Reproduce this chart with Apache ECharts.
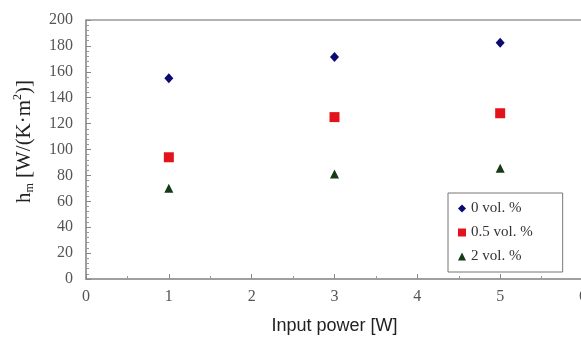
<!DOCTYPE html>
<html><head><meta charset="utf-8">
<script src="https://cdn.jsdelivr.net/npm/echarts@6/dist/echarts.min.js"></script>
<style>html,body{margin:0;padding:0;background:#fff}#c{width:581px;height:337px}</style>
</head><body><div id="c"></div>
<script>
const power = [1, 3, 5];
const s0 = [155, 171.5, 182.5];
const s05 = [94, 125, 128];
const s2 = [70, 81, 85.5];
const seriesNames = ['0 vol. %', '0.5 vol. %', '2 vol. %'];

const chart = echarts.init(document.getElementById('c'));
const serif = 'Liberation Serif';
function pts(v){ return power.map((x,i)=>[x, v[i]]); }
chart.setOption({
  animation: false,
  backgroundColor: '#fff',
  grid: {left: 86, right: -2, top: 20, bottom: 58, outerBoundsMode: 'none', containLabel: false,
         show: true, borderColor: '#999', borderWidth: 1.5},
  xAxis: {
    type: 'value', min: 0, max: 6, interval: 1,
    name: 'Input power [W]', nameLocation: 'middle', nameGap: 38,
    nameTextStyle: {fontFamily: 'Liberation Sans', fontSize: 18, color: '#222'},
    axisLine: {lineStyle: {color: '#999', width: 1.5}},
    axisTick: {inside: true, length: 5, lineStyle: {color: '#888'}},
    minorTick: {show: true, splitNumber: 2, length: 3, lineStyle: {color: '#999'}},
    axisLabel: {fontFamily: serif, fontSize: 16, color: '#555', margin: 10},
    splitLine: {show: false}
  },
  yAxis: {
    type: 'value', min: 0, max: 200, interval: 20,
    name: '{b|h}{s|m}{b| [W/(K·m}{u|2}{b|)]}', nameLocation: 'middle', nameGap: 50, nameRotate: 90,
    nameTextStyle: {
      padding: [0, 0, 0, 16],
      rich: {
        b: {fontFamily: serif, fontSize: 21, color: '#222', lineHeight: 24, verticalAlign: 'middle'},
        s: {fontFamily: serif, fontSize: 12, color: '#222', lineHeight: 24, padding: [9,0,0,0], verticalAlign: 'bottom'},
        u: {fontFamily: serif, fontSize: 12, color: '#222', lineHeight: 24, padding: [0,0,9,0], verticalAlign: 'top'}
      }
    },
    axisLine: {show: true, lineStyle: {color: '#999', width: 1.5}},
    axisTick: {show: true, inside: true, length: 5, lineStyle: {color: '#888'}},
    minorTick: {show: true, splitNumber: 5, length: 3, lineStyle: {color: '#999'}},
    axisLabel: {fontFamily: serif, fontSize: 16, color: '#555', margin: 13},
    splitLine: {show: false}
  },
  legend: {
    orient: 'vertical', left: 448, top: 193, width: 114,
    backgroundColor: '#fff', borderColor: '#777', borderWidth: 1,
    padding: [8, 30, 8, 10], itemGap: 9, itemWidth: 8, itemHeight: 8,
    textStyle: {fontFamily: serif, fontSize: 15, color: '#333'},
    data: seriesNames
  },
  series: [
    {name: seriesNames[0], type: 'scatter', symbol: 'diamond', symbolSize: [9, 10], itemStyle: {color: '#0a0a70', opacity: 1}, data: pts(s0)},
    {name: seriesNames[1], type: 'scatter', symbol: 'rect', symbolSize: 10, itemStyle: {color: '#e3131b', opacity: 1}, data: pts(s05)},
    {name: seriesNames[2], type: 'scatter', symbol: 'triangle', symbolSize: [9, 9], itemStyle: {color: '#153a15', opacity: 1}, data: pts(s2)}
  ]
});
</script></body></html>
